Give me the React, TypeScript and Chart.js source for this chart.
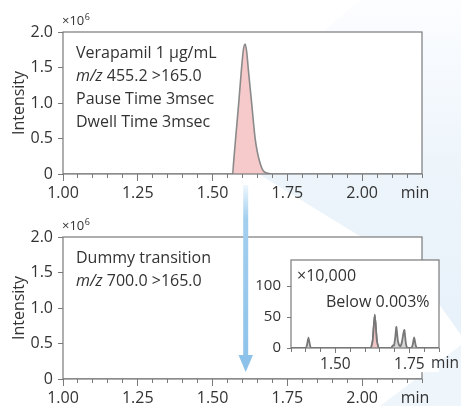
import React, { useEffect, useRef } from "react";
import { Chart, registerables } from "chart.js";

Chart.register(...registerables);

const FONT = "'Open Sans', 'Noto Sans', 'DejaVu Sans', sans-serif";
const TEXT = "#333333";
const FRAME = "#7a7a7a";
const PINK = "rgba(245, 196, 196, 0.9)";
const TRACE = "#8a8a8a";

// ---- main panels: shared axes ----
const mainXMin = 1.0;
const mainXMax = 2.2;
const mainMinorStep = 0.05;
const mainMajorTicks = [1.0, 1.25, 1.5, 1.75, 2.0];
const mainMajorLabels = ["1.00", "1.25", "1.50", "1.75", "2.00"];
const mainYTicks = [0, 0.5, 1.0, 1.5, 2.0];
const mainYLabels = ["0", "0.5", "1.0", "1.5", "2.0"];
const mainYMax = 2.0;

// ---- top panel: Verapamil (intensity ×10^6) ----
const verapamilTime = [1.0, 1.56, 1.567, 1.57, 1.577, 1.587, 1.596, 1.603, 1.609, 1.614, 1.62, 1.631, 1.642, 1.65, 1.657, 1.665, 1.673, 1.685, 1.697, 2.2];
const verapamilIntensity = [0, 0, 0, 0.15, 0.5, 0.98, 1.45, 1.75, 1.83, 1.72, 1.45, 0.98, 0.51, 0.3, 0.18, 0.08, 0.03, 0.01, 0, 0];
const topLines = [
  [{ t: "Verapamil 1 µg/mL" }],
  [{ t: "m/z", i: true }, { t: " 455.2 >165.0" }],
  [{ t: "Pause Time 3msec" }],
  [{ t: "Dwell Time 3msec" }],
];

// ---- bottom panel: dummy transition (flat on ×10^6 scale) ----
const dummyTime = [1.0, 2.2];
const dummyIntensity = [0, 0];
const bottomLines = [
  [{ t: "Dummy transition" }],
  [{ t: "m/z", i: true }, { t: " 700.0 >165.0" }],
];

// ---- inset (×10,000) ----
const insetXMin = 1.35;
const insetXMax = 1.85;
const insetMinorStep = 0.05;
const insetMajorTicks = [1.5, 1.75];
const insetMajorLabels = ["1.50", "1.75"];
const insetYTicks = [0, 50, 100];
const insetYLabels = ["0", "50", "100"];
const insetYMax = 142;
const insetTime = [1.35, 1.4, 1.404, 1.409, 1.414, 1.418, 1.62, 1.626, 1.633, 1.64, 1.646, 1.688, 1.694, 1.698, 1.702, 1.706, 1.711, 1.716, 1.72, 1.725, 1.729, 1.733, 1.738, 1.743, 1.756, 1.761, 1.766, 1.771, 1.776, 1.85];
const insetIntensity = [0, 0, 5, 16.5, 5, 0, 0, 12, 54, 12, 0, 0, 4, 4, 16, 34, 12, 4, 3, 10, 22, 29, 8, 0, 0, 5, 17, 5, 0, 0];
const insetPeakTime = [1.62, 1.626, 1.633, 1.64, 1.646];
const insetPeakIntensity = [0, 12, 54, 12, 0];

type Part = { t: string; i?: boolean };

const near = (a: number, b: number) => Math.abs(a - b) < 1e-6;

function stepTicks(min: number, max: number, step: number) {
  const n = Math.round((max - min) / step);
  const out: number[] = [];
  for (let i = 0; i <= n; i++) out.push(+(min + i * step).toFixed(4));
  return out;
}

function pts(xs: number[], ys: number[]) {
  return xs.map((x, i) => ({ x, y: ys[i] }));
}

function drawParts(ctx: CanvasRenderingContext2D, parts: Part[], x: number, y: number, size: number) {
  let cx = x;
  for (const p of parts) {
    ctx.font = `${p.i ? "italic " : ""}${size}px ${FONT}`;
    ctx.fillText(p.t, cx, y);
    cx += ctx.measureText(p.t).width;
  }
}

function drawExp(ctx: CanvasRenderingContext2D, x: number, y: number) {
  ctx.textAlign = "left";
  ctx.textBaseline = "alphabetic";
  ctx.fillStyle = TEXT;
  ctx.font = `13px ${FONT}`;
  ctx.fillText("×10", x, y);
  const w = ctx.measureText("×10").width;
  ctx.font = `9px ${FONT}`;
  ctx.fillText("6", x + w + 0.5, y - 5);
}

function xAxis(min: number, max: number, step: number, majors: number[], labels: string[], height: number, tl: number, minorLen: number, pad: number, size: number) {
  return {
    type: "linear",
    min,
    max,
    afterBuildTicks: (s: any) => {
      s.ticks = stepTicks(min, max, step).map((v) => ({ value: v }));
    },
    afterFit: (s: any) => {
      s.height = height;
    },
    border: { display: false },
    grid: {
      display: true,
      drawOnChartArea: false,
      drawTicks: true,
      tickLength: tl,
      tickColor: FRAME,
      tickWidth: 1,
      tickBorderDash: (c: any) => (c.tick && majors.some((m) => near(m, c.tick.value)) ? [] : [minorLen, 40]),
    },
    ticks: {
      autoSkip: false,
      maxRotation: 0,
      minRotation: 0,
      padding: pad,
      color: TEXT,
      font: { family: FONT, size },
      callback: (v: number) => {
        const i = majors.findIndex((m) => near(m, v));
        return i >= 0 ? labels[i] : "";
      },
    },
  };
}

function yAxis(max: number, ticks: number[], labels: string[], width: number, title: boolean, size: number, tl: number, pad: number) {
  return {
    type: "linear",
    min: 0,
    max,
    afterBuildTicks: (s: any) => {
      s.ticks = ticks.map((v) => ({ value: v }));
    },
    afterFit: (s: any) => {
      s.width = width;
    },
    border: { display: false },
    grid: { display: true, drawOnChartArea: false, drawTicks: true, tickLength: tl, tickColor: FRAME },
    title: title
      ? { display: true, text: "Intensity", color: TEXT, font: { family: FONT, size: 16 }, padding: { top: 10, bottom: 0 } }
      : { display: false },
    ticks: {
      padding: pad,
      color: TEXT,
      font: { family: FONT, size },
      callback: (v: number) => {
        const i = ticks.findIndex((m) => near(m, v));
        return i >= 0 ? labels[i] : "";
      },
    },
  };
}

function mainConfig(xs: number[], ys: number[], lines: Part[][], xAxisHeight: number) {
  const deco = {
    id: "deco",
    beforeDraw(chart: any) {
      const { ctx, chartArea: a } = chart;
      ctx.save();
      ctx.fillStyle = "#ffffff";
      ctx.fillRect(a.left, a.top, a.right - a.left, a.bottom - a.top);
      ctx.restore();
    },
    afterDraw(chart: any) {
      const { ctx, chartArea: a } = chart;
      ctx.save();
      ctx.strokeStyle = FRAME;
      ctx.lineWidth = 1.2;
      ctx.strokeRect(a.left, a.top, a.right - a.left, a.bottom - a.top);
      drawExp(ctx, a.left - 1, a.top - 7);
      ctx.fillStyle = TEXT;
      ctx.textAlign = "left";
      ctx.textBaseline = "alphabetic";
      lines.forEach((parts, i) => drawParts(ctx, parts, a.left + 13, a.top + 25.5 + 23.3 * i, 16));
      ctx.font = `16px ${FONT}`;
      ctx.textAlign = "center";
      ctx.textBaseline = "middle";
      ctx.fillText("min", a.right - 7, a.bottom + 19.5);
      ctx.restore();
    },
  };
  return {
    type: "line",
    data: {
      datasets: [
        {
          data: pts(xs, ys),
          borderColor: TRACE,
          borderWidth: 1.6,
          backgroundColor: PINK,
          fill: "origin",
          pointRadius: 0,
          cubicInterpolationMode: "monotone",
        },
      ],
    },
    options: {
      responsive: false,
      animation: false,
      events: [],
      layout: { padding: { left: 0, right: 39, top: 32, bottom: 0 } },
      plugins: { legend: { display: false }, tooltip: { enabled: false } },
      scales: {
        x: xAxis(mainXMin, mainXMax, mainMinorStep, mainMajorTicks, mainMajorLabels, xAxisHeight, 7, 4, 3, 16),
        y: yAxis(mainYMax, mainYTicks, mainYLabels, 63, true, 16, 5, 5),
      },
    },
    plugins: [deco],
  };
}

function insetConfig() {
  const deco = {
    id: "insetDeco",
    beforeDraw(chart: any) {
      const { ctx, chartArea: a } = chart;
      ctx.save();
      ctx.fillStyle = "#ffffff";
      ctx.fillRect(0, a.top, a.right, 127 - a.top);
      ctx.restore();
    },
    afterDraw(chart: any) {
      const { ctx, chartArea: a } = chart;
      ctx.save();
      ctx.strokeStyle = FRAME;
      ctx.lineWidth = 1.2;
      ctx.strokeRect(a.left, a.top, a.right - a.left, a.bottom - a.top);
      ctx.fillStyle = TEXT;
      ctx.textAlign = "left";
      ctx.textBaseline = "alphabetic";
      ctx.font = `16px ${FONT}`;
      ctx.fillText("×10,000", a.left + 6, a.top + 20.5);
      ctx.fillText("Below 0.003%", a.left + 35, a.top + 47);
      ctx.font = `15.5px ${FONT}`;
      ctx.textAlign = "center";
      ctx.textBaseline = "middle";
      ctx.fillText("min", a.right + 6, a.bottom + 15.5);
      ctx.restore();
    },
  };
  return {
    type: "line",
    data: {
      datasets: [
        {
          data: pts(insetTime, insetIntensity),
          borderColor: "#777777",
          borderWidth: 1.8,
          backgroundColor: "rgba(200, 200, 200, 0.7)",
          fill: "origin",
          pointRadius: 0,
          tension: 0.2,
          order: 2,
        },
        {
          data: pts(insetPeakTime, insetPeakIntensity),
          borderWidth: 1.8,
          borderColor: "#777777",
          backgroundColor: PINK,
          fill: "origin",
          pointRadius: 0,
          tension: 0.2,
          order: 1,
        },
      ],
    },
    options: {
      responsive: false,
      animation: false,
      events: [],
      layout: { padding: { left: 0, right: 22, top: 8, bottom: 0 } },
      plugins: { legend: { display: false }, tooltip: { enabled: false } },
      scales: {
        x: xAxis(insetXMin, insetXMax, insetMinorStep, insetMajorTicks, insetMajorLabels, 27, 5, 4, 2, 15.5),
        y: yAxis(insetYMax, insetYTicks, insetYLabels, 41, false, 15, 4, 6),
      },
    },
    plugins: [deco],
  };
}

function ChartCanvas({ make, left, top, width, height }: { make: () => any; left: number; top: number; width: number; height: number }) {
  const ref = useRef<HTMLCanvasElement | null>(null);
  useEffect(() => {
    if (!ref.current) return;
    const chart = new Chart(ref.current, make());
    return () => chart.destroy();
  }, []);
  return (
    <canvas
      ref={ref}
      width={width}
      height={height}
      style={{ position: "absolute", left, top, width, height }}
    />
  );
}

export default function App() {
  return (
    <div style={{ position: "absolute", left: 0, top: 0, width: 461, height: 406, overflow: "hidden", background: "#ffffff" }}>
      <div
        style={{
          position: "absolute",
          left: 0,
          top: 0,
          width: 461,
          height: 406,
          background: "linear-gradient(180deg, #fcfdff 0%, #edf5fb 40%, #e6f0f9 100%)",
          clipPath: "polygon(200px 138px, 415px 270px, 427px 287px, 461px 335px, 461px 0px, 360px 0px)",
        }}
      />
      <div
        style={{
          position: "absolute",
          left: 0,
          top: 0,
          width: 461,
          height: 406,
          background: "#eef5fb",
          clipPath: "polygon(380px 406px, 461px 345px, 461px 406px)",
        }}
      />
      <ChartCanvas make={() => mainConfig(verapamilTime, verapamilIntensity, topLines, 32)} left={0} top={0} width={461} height={206} />
      <ChartCanvas make={() => mainConfig(dummyTime, dummyIntensity, bottomLines, 27)} left={0} top={205} width={461} height={201} />
      <ChartCanvas make={insetConfig} left={250} top={245} width={211} height={130} />
      <svg width={461} height={406} style={{ position: "absolute", left: 0, top: 0, pointerEvents: "none" }}>
        <defs>
          <linearGradient id="arrowGrad" x1="0" y1="185" x2="0" y2="372" gradientUnits="userSpaceOnUse">
            <stop offset="0" stopColor="#eef6fc" />
            <stop offset="0.18" stopColor="#a3cfef" />
            <stop offset="1" stopColor="#8cc2ea" />
          </linearGradient>
        </defs>
        <rect x={243.2} y={185} width={5} height={172} fill="url(#arrowGrad)" />
        <polygon points="238.5,355 253,355 245.7,372" fill="#8cc2ea" />
      </svg>
    </div>
  );
}
